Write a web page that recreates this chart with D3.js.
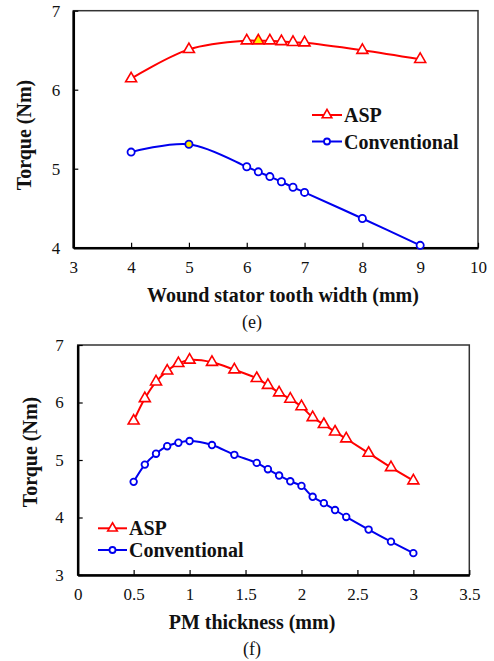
<!DOCTYPE html>
<html><head><meta charset="utf-8">
<script src="https://cdn.jsdelivr.net/npm/d3@7"></script>
<style>body{margin:0;background:#fff}svg{display:block}</style>
</head><body>
<script>
// Panel (e): wound stator tooth width
const widthX = [4, 5, 6, 6.2, 6.4, 6.6, 6.8, 7, 8, 9];
const widthASP = [6.14, 6.51, 6.62, 6.62, 6.62, 6.61, 6.60, 6.595, 6.50, 6.385];
const widthConv = [5.21, 5.31, 5.025, 4.96, 4.90, 4.835, 4.765, 4.70, 4.37, 4.03];
const widthHighlightASP = [6.2];
const widthHighlightConv = [5];
const widthXTicks = [3, 4, 5, 6, 7, 8, 9, 10];
const widthYTicks = [4, 5, 6, 7];

// Panel (f): PM thickness
const pmX = [0.5, 0.6, 0.7, 0.8, 0.9, 1.0, 1.2, 1.4, 1.6, 1.7, 1.8, 1.9, 2.0, 2.1, 2.2, 2.3, 2.4, 2.6, 2.8, 3.0];
const pmASP = [5.68, 6.07, 6.36, 6.55, 6.68, 6.74, 6.70, 6.57, 6.42, 6.30, 6.17, 6.06, 5.93, 5.74, 5.62, 5.49, 5.37, 5.12, 4.87, 4.64];
const pmConv = [4.62, 4.92, 5.11, 5.24, 5.30, 5.33, 5.26, 5.09, 4.95, 4.84, 4.73, 4.63, 4.55, 4.36, 4.25, 4.13, 4.01, 3.79, 3.58, 3.38];
const pmXTicks = [0, 0.5, 1, 1.5, 2, 2.5, 3, 3.5];
const pmYTicks = [3, 4, 5, 6, 7];

const seriesNames = ["ASP", "Conventional"];

const svg = d3.select("body").append("svg").attr("width", 494).attr("height", 661);
const serif = "'Liberation Serif','Times New Roman',serif";

function panel(cfg) {
  const g = svg.append("g");
  const x = d3.scaleLinear().domain(cfg.xDomain).range(cfg.xRange);
  const y = d3.scaleLinear().domain(cfg.yDomain).range(cfg.yRange);
  // frame
  g.append("rect").attr("x", cfg.xRange[0]).attr("y", cfg.yRange[1])
    .attr("width", cfg.xRange[1] - cfg.xRange[0]).attr("height", cfg.yRange[0] - cfg.yRange[1])
    .attr("fill", "none").attr("stroke", "#333").attr("stroke-width", 1.5);
  const xa = g.append("g").attr("transform", `translate(0,${cfg.yRange[0]})`)
    .call(d3.axisBottom(x).tickValues(cfg.xTicks).tickSizeInner(-5).tickSizeOuter(0).tickPadding(cfg.xPad).tickFormat(d3.format("")));
  const ya = g.append("g").attr("transform", `translate(${cfg.xRange[0]},0)`)
    .call(d3.axisLeft(y).tickValues(cfg.yTicks).tickSizeInner(-5).tickSizeOuter(0).tickPadding(cfg.yPad).tickFormat(d3.format("")));
  [xa, ya].forEach(a => {
    a.select(".domain").attr("stroke", "#000").attr("stroke-width", 2.5);
    a.selectAll(".tick line").attr("stroke", "#000").attr("stroke-width", 1.2);
    a.selectAll(".tick text").attr("font-family", serif).attr("font-size", 17).attr("fill", "#111");
  });
  const line = d3.line().x(d => x(d[0])).y(d => y(d[1])).curve(d3.curveCatmullRom.alpha(0.5));
  const asp = cfg.xs.map((v, i) => [v, cfg.asp[i]]);
  const conv = cfg.xs.map((v, i) => [v, cfg.conv[i]]);
  g.append("path").attr("d", line(asp)).attr("fill", "none").attr("stroke", "#ff0000").attr("stroke-width", 2);
  g.append("path").attr("d", line(conv)).attr("fill", "none").attr("stroke", "#0000ee").attr("stroke-width", 2);
  const tri = d3.symbol().type(d3.symbolTriangle).size(52);
  g.selectAll(".tri").data(asp).join("path")
    .attr("transform", d => `translate(${x(d[0])},${y(d[1])})`).attr("d", tri)
    .attr("fill", d => cfg.hiASP.includes(d[0]) ? "#ffee00" : "#fff")
    .attr("stroke", "#ff0000").attr("stroke-width", 1.6);
  g.selectAll(".circ").data(conv).join("circle")
    .attr("cx", d => x(d[0])).attr("cy", d => y(d[1])).attr("r", cfg.r)
    .attr("fill", d => cfg.hiConv.includes(d[0]) ? "#ffee00" : "#fff")
    .attr("stroke", "#0000ee").attr("stroke-width", 1.8);
  // legend
  const L = cfg.legend;
  const ly = [L.y0, L.y1];
  const cols = ["#ff0000", "#0000ee"];
  seriesNames.forEach((name, i) => {
    g.append("line").attr("x1", L.x0).attr("x2", L.x1).attr("y1", ly[i]).attr("y2", ly[i])
      .attr("stroke", cols[i]).attr("stroke-width", 2);
    const mx = (L.x0 + L.x1) / 2;
    if (i === 0) {
      g.append("path").attr("transform", `translate(${mx},${ly[i]})`).attr("d", d3.symbol().type(d3.symbolTriangle).size(40))
        .attr("fill", "#fff").attr("stroke", cols[i]).attr("stroke-width", 1.6);
    } else {
      g.append("circle").attr("cx", mx).attr("cy", ly[i]).attr("r", 3)
        .attr("fill", "#fff").attr("stroke", cols[i]).attr("stroke-width", 1.8);
    }
    g.append("text").attr("x", L.x1 + 2).attr("y", ly[i]).attr("dy", "0.35em")
      .attr("font-family", serif).attr("font-weight", "bold").attr("font-size", 20).attr("fill", "#111").text(name);
  });
  // labels
  g.append("text").attr("x", cfg.xLabelX).attr("y", cfg.xLabelY).attr("text-anchor", "middle")
    .attr("font-family", serif).attr("font-weight", "bold").attr("font-size", 20).attr("fill", "#111").text(cfg.xLabel);
  g.append("text").attr("transform", `translate(${cfg.yLabelX},${cfg.yLabelY}) rotate(-90)`)
    .attr("text-anchor", "middle").attr("dy", "0.35em")
    .attr("font-family", serif).attr("font-weight", "bold").attr("font-size", 20).attr("fill", "#111").text("Torque (Nm)");
  g.append("text").attr("x", cfg.capX).attr("y", cfg.capY).attr("text-anchor", "middle")
    .attr("font-family", serif).attr("font-size", 18).attr("fill", "#111").text(cfg.caption);
}

panel({
  xDomain: [3, 10], xRange: [73.3, 478], yDomain: [4, 7], yRange: [247.7, 10.7],
  xTicks: widthXTicks, yTicks: widthYTicks, xPad: 13, yPad: 13,
  xs: widthX, asp: widthASP, conv: widthConv, hiASP: widthHighlightASP, hiConv: widthHighlightConv, r: 3.6,
  legend: { x0: 312, x1: 342, y0: 115, y1: 141.5 },
  xLabel: "Wound stator tooth width (mm)", xLabelX: 283, xLabelY: 302,
  yLabelX: 24, yLabelY: 135, caption: "(e)", capX: 252, capY: 328
});
panel({
  xDomain: [0, 3.5], xRange: [77.7, 469.3], yDomain: [3, 7], yRange: [575, 345],
  xTicks: pmXTicks, yTicks: pmYTicks, xPad: 13, yPad: 14,
  xs: pmX, asp: pmASP, conv: pmConv, hiASP: [], hiConv: [], r: 3.3,
  legend: { x0: 98, x1: 127, y0: 528.3, y1: 550 },
  xLabel: "PM thickness (mm)", xLabelX: 252, xLabelY: 629,
  yLabelX: 30, yLabelY: 452, caption: "(f)", capX: 252, capY: 655
});
</script>
</body></html>
